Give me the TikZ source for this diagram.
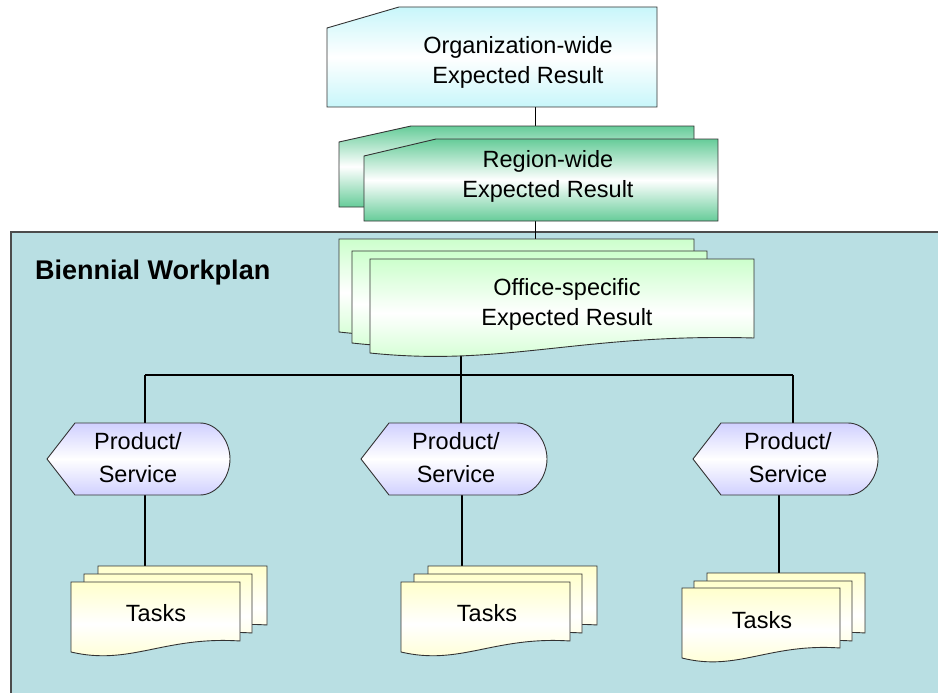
\documentclass[tikz,border=0pt]{standalone}
\usepackage{fontspec}
\setmainfont{Liberation Sans}
\usetikzlibrary{positioning}

\definecolor{panelblue}{RGB}{185,223,227}
\definecolor{orgcyan}{RGB}{200,246,250}
\definecolor{regiongreen}{RGB}{102,204,153}
\definecolor{officegreen}{RGB}{204,255,204}
\definecolor{productlilac}{RGB}{208,208,255}
\definecolor{taskyellow}{RGB}{255,255,204}

% card with cut corner: x, top, width, height, drop, fill
\newcommand{\punchcard}[6]{%
  \path[card_line,#6] (#1,{#2+#5}) -- ({#1+72},#2) -- ({#1+#3},#2) -- ({#1+#3},{#2+#4}) -- (#1,{#2+#4}) -- cycle;}
% card with wavy bottom: x, top, width, left height, right height, fill
\newcommand{\wavecard}[6]{%
  \path[card_line,#6] (#1,#2) -- ({#1+#3},#2) -- ({#1+#3},{#2+#5})
    .. controls ({#1+0.55*#3},{#2+#5-5}) and ({#1+0.35*#3},{#2+#4+14}) .. (#1,{#2+#4}) -- cycle;}
% display shape: tip x, top, width, height, fill
\newcommand{\displaycard}[5]{%
  \path[card_line,#5] (#1,{#2+#4/2}) -- ({#1+28},#2) -- ({#1+#3-30},#2)
    .. controls ({#1+#3-13},#2) and ({#1+#3},{#2+#4/4}) .. ({#1+#3},{#2+#4/2})
    .. controls ({#1+#3},{#2+3*#4/4}) and ({#1+#3-13},{#2+#4}) .. ({#1+#3-30},{#2+#4})
    -- ({#1+28},{#2+#4}) -- cycle;}

\begin{document}
\begin{tikzpicture}[x=1pt, y=-1pt,
card_line/.style={draw=black!80, line width=0.9pt},
org_fill/.style={top color=orgcyan, bottom color=orgcyan, middle color=white},
region_fill/.style={top color=regiongreen, bottom color=regiongreen, middle color=white},
office_fill/.style={top color=officegreen, bottom color=officegreen, middle color=white},
product_fill/.style={top color=productlilac, bottom color=productlilac, middle color=white},
task_fill/.style={top color=taskyellow, bottom color=taskyellow, middle color=white},
card_text/.style={align=center, inner sep=0pt, font=\fontsize{23.5}{30}\selectfont},
product_text/.style={card_text, font=\fontsize{23.5}{33}\selectfont},
title_text/.style={anchor=west, inner sep=0pt, font=\fontsize{27}{32}\selectfont\bfseries},
thin_link/.style={draw=black, line width=1pt},
thick_link/.style={draw=black, line width=2.2pt}
]
\clip (0,0) rectangle (938,693);

% workplan panel
\path[fill=panelblue, draw=black!70, line width=1.5pt] (11,232) rectangle (960,720);
\node[title_text](workplan) at (35,273) {Biennial Workplan};

% connector ends
\coordinate (org_bottom) at (535,107);
\coordinate (region_top) at (535,126);
\coordinate (region_bottom) at (535,221);
\coordinate (office_top) at (535,239);
\coordinate (office_bottom) at (461,355);
\coordinate (bar_left) at (145,375);
\coordinate (bar_middle) at (461,375);
\coordinate (bar_right) at (793,375);
\coordinate (product_one_top) at (145,423);
\coordinate (product_two_top) at (461,423);
\coordinate (product_three_top) at (793,423);
\coordinate (product_one_bottom) at (145,495);
\coordinate (product_two_bottom) at (462,495);
\coordinate (product_three_bottom) at (779,495);
\coordinate (tasks_one_top) at (145,566);
\coordinate (tasks_two_top) at (462,566);
\coordinate (tasks_three_top) at (779,573);

\draw[thin_link](org_bottom) -- (region_top);
\draw[thin_link](region_bottom) -- (office_top);
\draw[thick_link](office_bottom) -- (bar_middle);
\draw[thick_link](bar_left) -- (bar_right);
\draw[thick_link](bar_left) -- (product_one_top);
\draw[thick_link](bar_middle) -- (product_two_top);
\draw[thick_link](bar_right) -- (product_three_top);
\draw[thick_link](product_one_bottom) -- (tasks_one_top);
\draw[thick_link](product_two_bottom) -- (tasks_two_top);
\draw[thick_link](product_three_bottom) -- (tasks_three_top);

% expected results
\punchcard{327}{7}{330}{100}{21}{org_fill}
\node[card_text](org) at (518,62) {Organization-wide\\Expected Result};

\punchcard{339}{126}{355}{81}{16}{region_fill}
\punchcard{364}{139}{354}{82}{17}{region_fill}
\node[card_text](region) at (548,176) {Region-wide\\Expected Result};

\wavecard{339}{239}{355}{93}{78}{office_fill}
\wavecard{352}{251}{355}{92}{78}{office_fill}
\wavecard{370}{259}{384}{94}{79}{office_fill}
\node[card_text](office) at (567,304) {Office-specific\\Expected Result};

% products and services
\displaycard{47}{423}{183}{72}{product_fill}
\node[product_text](product_one) at (138,458) {Product/\\Service};
\displaycard{361}{423}{186}{72}{product_fill}
\node[product_text](product_two) at (456,458) {Product/\\Service};
\displaycard{693}{423}{185}{72}{product_fill}
\node[product_text](product_three) at (788,458) {Product/\\Service};

% tasks
\wavecard{98}{566}{169}{70}{59}{task_fill}
\wavecard{84}{574}{168}{70}{59}{task_fill}
\wavecard{71}{582}{169}{70}{59}{task_fill}
\node[card_text](tasks_one) at (156,613) {Tasks};

\wavecard{428}{566}{169}{70}{59}{task_fill}
\wavecard{414}{574}{168}{70}{59}{task_fill}
\wavecard{401}{582}{169}{70}{59}{task_fill}
\node[card_text](tasks_two) at (487,613) {Tasks};

\wavecard{707}{573}{158}{70}{60}{task_fill}
\wavecard{694}{581}{158}{70}{60}{task_fill}
\wavecard{682}{588}{158}{70}{60}{task_fill}
\node[card_text](tasks_three) at (762,620) {Tasks};
\end{tikzpicture}
\end{document}
